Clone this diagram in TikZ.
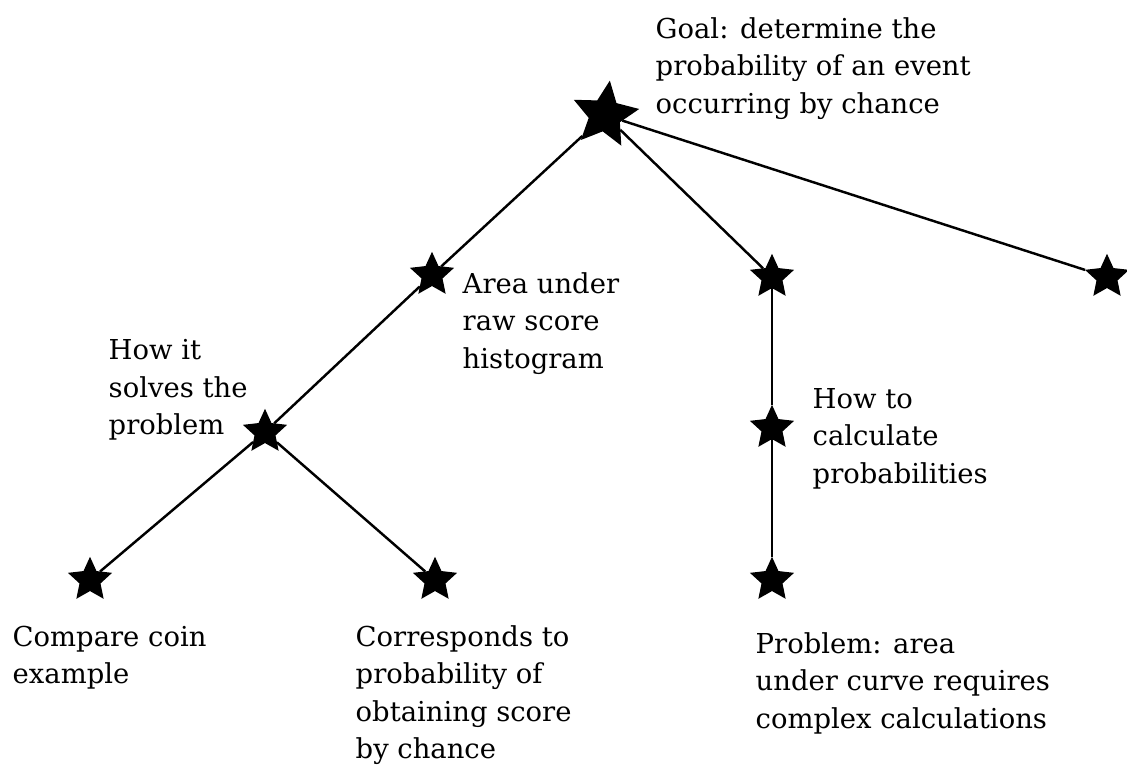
\documentclass[tikz,border=0pt]{standalone}
\usepackage{fontspec}
\setmainfont{DejaVu Serif}
\usepackage{tikz}
\usetikzlibrary{shapes.geometric, positioning}

\begin{document}
\begin{tikzpicture}[
    x=0.01cm, y=-0.01cm,
    bigstar/.style={star, star points=5, star point ratio=2.1, fill=black, draw=black, minimum size=0.66cm, inner sep=0pt, rotate=-8},
    smallstar/.style={star, star points=5, star point ratio=2.1, fill=black, draw=black, minimum size=0.43cm, inner sep=0pt},
    note/.style={anchor=north west, align=left, inner sep=0pt, font=\fontsize{7.8}{10.6}\selectfont},
    link/.style={line width=0.7pt},
]
\useasboundingbox (0,0) rectangle (1127,769);

% Stars
\node[bigstar] (goal) at (605,115) {};
\node[smallstar] (area) at (432,275) {};
\node[smallstar] (calc) at (772,277) {};
\node[smallstar] (other) at (1107,277) {};
\node[smallstar] (solves) at (265,432) {};
\node[smallstar] (howto) at (772,428) {};
\node[smallstar] (coin) at (90,580) {};
\node[smallstar] (corr) at (435,580) {};
\node[smallstar] (prob) at (772,580) {};

% Connectors
\draw[link] (goal) -- (area);
\draw[link] (goal) -- (calc);
\draw[link] (goal) -- (other);
\draw[link] (area) -- (solves);
\draw[link] (solves) -- (coin);
\draw[link] (solves) -- (corr);
\draw[link] (calc) -- (howto);
\draw[link] (howto) -- (prob);

% Labels
\node[note] (goaltxt) at (655,17) {Goal: determine the\\probability of an event\\occurring by chance};
\node[note] (areatxt) at (462,272) {Area under\\raw score\\histogram};
\node[note] (solvestxt) at (108,339) {How it\\solves the\\problem};
\node[note] (howtotxt) at (812,388) {How to\\calculate\\probabilities};
\node[note] (cointxt) at (12,625) {Compare coin\\example};
\node[note] (corrtxt) at (355,625) {Corresponds to\\probability of\\obtaining score\\by chance};
\node[note] (probtxt) at (755,632) {Problem: area\\under curve requires\\complex calculations};

\end{tikzpicture}
\end{document}
